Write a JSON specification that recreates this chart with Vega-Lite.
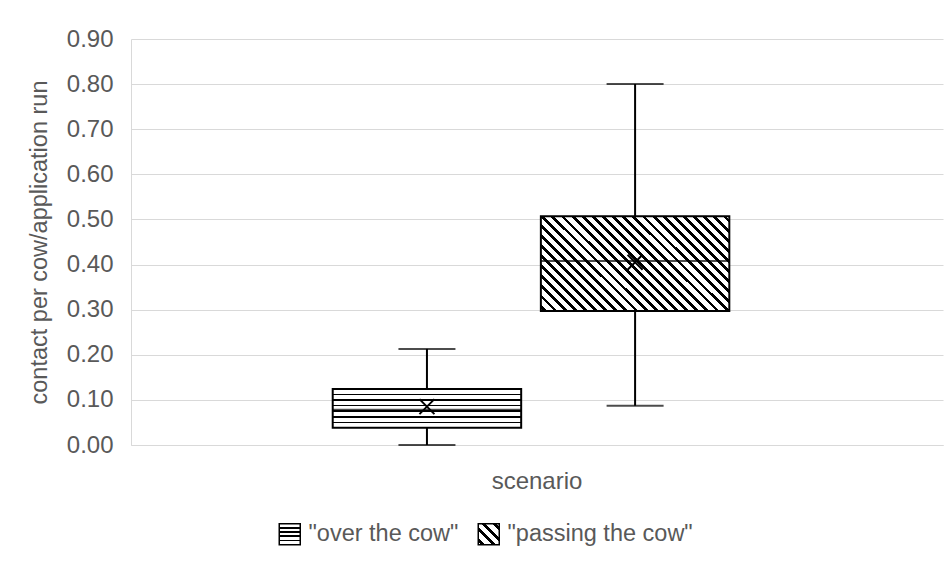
{
  "$schema": "https://vega.github.io/schema/vega-lite/v6.json",
  "autosize": {"type": "none"},
  "width": 812,
  "height": 406,
  "padding": {"left": 131, "top": 39, "right": 5, "bottom": 131},
  "config": {"font": "Liberation Sans", "view": {"stroke": null}},
  "params": [
    {"name": "g1", "value": {"gradient": "linear", "x1": 0.5, "y1": 0, "x2": 0.5, "y2": 1, "stops": [
      {"offset": 0, "color": "white"},
      {"offset": 0.1229, "color": "white"}, {"offset": 0.1229, "color": "black"}, {"offset": 0.1629, "color": "black"}, {"offset": 0.1629, "color": "white"},
      {"offset": 0.2657, "color": "white"}, {"offset": 0.2657, "color": "black"}, {"offset": 0.3057, "color": "black"}, {"offset": 0.3057, "color": "white"},
      {"offset": 0.4086, "color": "white"}, {"offset": 0.4086, "color": "black"}, {"offset": 0.4486, "color": "black"}, {"offset": 0.4486, "color": "white"},
      {"offset": 0.5514, "color": "white"}, {"offset": 0.5514, "color": "black"}, {"offset": 0.5914, "color": "black"}, {"offset": 0.5914, "color": "white"},
      {"offset": 0.6943, "color": "white"}, {"offset": 0.6943, "color": "black"}, {"offset": 0.7343, "color": "black"}, {"offset": 0.7343, "color": "white"},
      {"offset": 0.8371, "color": "white"}, {"offset": 0.8371, "color": "black"}, {"offset": 0.8771, "color": "black"}, {"offset": 0.8771, "color": "white"},
      {"offset": 1, "color": "white"}
    ]}},
    {"name": "g1l", "value": {"gradient": "linear", "x1": 0.5, "y1": 0, "x2": 0.5, "y2": 1, "stops": [
      {"offset": 0, "color": "white"},
      {"offset": 0.16, "color": "white"}, {"offset": 0.16, "color": "black"}, {"offset": 0.24, "color": "black"}, {"offset": 0.24, "color": "white"},
      {"offset": 0.36, "color": "white"}, {"offset": 0.36, "color": "black"}, {"offset": 0.44, "color": "black"}, {"offset": 0.44, "color": "white"},
      {"offset": 0.56, "color": "white"}, {"offset": 0.56, "color": "black"}, {"offset": 0.64, "color": "black"}, {"offset": 0.64, "color": "white"},
      {"offset": 0.76, "color": "white"}, {"offset": 0.76, "color": "black"}, {"offset": 0.84, "color": "black"}, {"offset": 0.84, "color": "white"},
      {"offset": 1, "color": "white"}
    ]}},
    {"name": "g2l", "value": {"gradient": "linear", "x1": 0, "y1": 1, "x2": 1, "y2": 0.0001, "stops": [
      {"offset": 0, "color": "white"},
      {"offset": 0.075, "color": "white"}, {"offset": 0.075, "color": "black"}, {"offset": 0.175, "color": "black"}, {"offset": 0.175, "color": "white"},
      {"offset": 0.325, "color": "white"}, {"offset": 0.325, "color": "black"}, {"offset": 0.425, "color": "black"}, {"offset": 0.425, "color": "white"},
      {"offset": 0.575, "color": "white"}, {"offset": 0.575, "color": "black"}, {"offset": 0.675, "color": "black"}, {"offset": 0.675, "color": "white"},
      {"offset": 0.825, "color": "white"}, {"offset": 0.825, "color": "black"}, {"offset": 0.925, "color": "black"}, {"offset": 0.925, "color": "white"},
      {"offset": 1, "color": "white"}
    ]}},
    {"name": "g2", "value": {"gradient": "linear", "x1": 0, "y1": 1, "x2": 1.1994, "y2": 0.3955, "stops": [
      {"offset": 0, "color": "white"},
      {"offset": 0.011071, "color": "white"}, {"offset": 0.011071, "color": "black"}, {"offset": 0.024643, "color": "black"}, {"offset": 0.024643, "color": "white"},
      {"offset": 0.046785, "color": "white"}, {"offset": 0.046785, "color": "black"}, {"offset": 0.060357, "color": "black"}, {"offset": 0.060357, "color": "white"},
      {"offset": 0.0825, "color": "white"}, {"offset": 0.0825, "color": "black"}, {"offset": 0.096072, "color": "black"}, {"offset": 0.096072, "color": "white"},
      {"offset": 0.118214, "color": "white"}, {"offset": 0.118214, "color": "black"}, {"offset": 0.131786, "color": "black"}, {"offset": 0.131786, "color": "white"},
      {"offset": 0.153928, "color": "white"}, {"offset": 0.153928, "color": "black"}, {"offset": 0.1675, "color": "black"}, {"offset": 0.1675, "color": "white"},
      {"offset": 0.189642, "color": "white"}, {"offset": 0.189642, "color": "black"}, {"offset": 0.203214, "color": "black"}, {"offset": 0.203214, "color": "white"},
      {"offset": 0.225357, "color": "white"}, {"offset": 0.225357, "color": "black"}, {"offset": 0.238929, "color": "black"}, {"offset": 0.238929, "color": "white"},
      {"offset": 0.261071, "color": "white"}, {"offset": 0.261071, "color": "black"}, {"offset": 0.274643, "color": "black"}, {"offset": 0.274643, "color": "white"},
      {"offset": 0.296785, "color": "white"}, {"offset": 0.296785, "color": "black"}, {"offset": 0.310357, "color": "black"}, {"offset": 0.310357, "color": "white"},
      {"offset": 0.3325, "color": "white"}, {"offset": 0.3325, "color": "black"}, {"offset": 0.346072, "color": "black"}, {"offset": 0.346072, "color": "white"},
      {"offset": 0.368214, "color": "white"}, {"offset": 0.368214, "color": "black"}, {"offset": 0.381786, "color": "black"}, {"offset": 0.381786, "color": "white"},
      {"offset": 0.403928, "color": "white"}, {"offset": 0.403928, "color": "black"}, {"offset": 0.4175, "color": "black"}, {"offset": 0.4175, "color": "white"},
      {"offset": 0.439642, "color": "white"}, {"offset": 0.439642, "color": "black"}, {"offset": 0.453214, "color": "black"}, {"offset": 0.453214, "color": "white"},
      {"offset": 0.475357, "color": "white"}, {"offset": 0.475357, "color": "black"}, {"offset": 0.488929, "color": "black"}, {"offset": 0.488929, "color": "white"},
      {"offset": 0.511071, "color": "white"}, {"offset": 0.511071, "color": "black"}, {"offset": 0.524643, "color": "black"}, {"offset": 0.524643, "color": "white"},
      {"offset": 0.546785, "color": "white"}, {"offset": 0.546785, "color": "black"}, {"offset": 0.560357, "color": "black"}, {"offset": 0.560357, "color": "white"},
      {"offset": 0.5825, "color": "white"}, {"offset": 0.5825, "color": "black"}, {"offset": 0.596072, "color": "black"}, {"offset": 0.596072, "color": "white"},
      {"offset": 0.618214, "color": "white"}, {"offset": 0.618214, "color": "black"}, {"offset": 0.631786, "color": "black"}, {"offset": 0.631786, "color": "white"},
      {"offset": 0.653928, "color": "white"}, {"offset": 0.653928, "color": "black"}, {"offset": 0.6675, "color": "black"}, {"offset": 0.6675, "color": "white"},
      {"offset": 0.689642, "color": "white"}, {"offset": 0.689642, "color": "black"}, {"offset": 0.703214, "color": "black"}, {"offset": 0.703214, "color": "white"},
      {"offset": 0.725357, "color": "white"}, {"offset": 0.725357, "color": "black"}, {"offset": 0.738929, "color": "black"}, {"offset": 0.738929, "color": "white"},
      {"offset": 0.761071, "color": "white"}, {"offset": 0.761071, "color": "black"}, {"offset": 0.774643, "color": "black"}, {"offset": 0.774643, "color": "white"},
      {"offset": 0.796785, "color": "white"}, {"offset": 0.796785, "color": "black"}, {"offset": 0.810357, "color": "black"}, {"offset": 0.810357, "color": "white"},
      {"offset": 0.8325, "color": "white"}, {"offset": 0.8325, "color": "black"}, {"offset": 0.846072, "color": "black"}, {"offset": 0.846072, "color": "white"},
      {"offset": 0.868214, "color": "white"}, {"offset": 0.868214, "color": "black"}, {"offset": 0.881786, "color": "black"}, {"offset": 0.881786, "color": "white"},
      {"offset": 0.903928, "color": "white"}, {"offset": 0.903928, "color": "black"}, {"offset": 0.9175, "color": "black"}, {"offset": 0.9175, "color": "white"},
      {"offset": 0.939642, "color": "white"}, {"offset": 0.939642, "color": "black"}, {"offset": 0.953214, "color": "black"}, {"offset": 0.953214, "color": "white"},
      {"offset": 0.975357, "color": "white"}, {"offset": 0.975357, "color": "black"}, {"offset": 0.988929, "color": "black"}, {"offset": 0.988929, "color": "white"},
      {"offset": 1, "color": "white"}
    ]}}
  ],
  "data": {"values": [
    {"scenario": "scenario", "series": "\"over the cow\"", "min": 0.0, "q1": 0.038, "median": 0.078, "q3": 0.124, "max": 0.213, "mean": 0.085},
    {"scenario": "scenario", "series": "\"passing the cow\"", "min": 0.087, "q1": 0.297, "median": 0.408, "q3": 0.507, "max": 0.80, "mean": 0.405}
  ]},
  "encoding": {
    "x": {"field": "scenario", "type": "nominal",
      "scale": {"paddingInner": 0, "paddingOuter": 0.5237, "align": 0.4856},
      "axis": {"title": null, "labelAngle": 0, "labelFontSize": 24, "labelColor": "#595959", "labelPadding": 24, "labelOffset": 6, "ticks": false, "domainColor": "#d9d9d9", "domainWidth": 1, "grid": false}},
    "xOffset": {"field": "series", "type": "nominal", "scale": {"paddingInner": 0.0946, "paddingOuter": 0}}
  },
  "layer": [
    {
      "mark": {"type": "rule", "color": "black", "strokeWidth": 2},
      "encoding": {
        "y": {"field": "min", "type": "quantitative", "scale": {"domain": [0, 0.9], "nice": false},
          "axis": {"title": "contact per cow/application run", "values": [0, 0.1, 0.2, 0.3, 0.4, 0.5, 0.6, 0.7, 0.8, 0.9], "format": ".2f",
            "labelFontSize": 24, "labelColor": "#595959", "labelPadding": 18, "ticks": false,
            "domainColor": "#d9d9d9", "domainWidth": 1, "gridColor": "#d9d9d9", "gridWidth": 1,
            "titleFontSize": 23.5, "titleFontWeight": "normal", "titleColor": "#595959", "titlePadding": 15}},
        "y2": {"field": "max"}
      }
    },
    {
      "mark": {"type": "tick", "color": "black", "size": 57, "thickness": 2},
      "encoding": {"y": {"field": "min", "type": "quantitative"}}
    },
    {
      "mark": {"type": "tick", "color": "black", "size": 57, "thickness": 2},
      "encoding": {"y": {"field": "max", "type": "quantitative"}}
    },
    {
      "mark": {"type": "bar", "stroke": "black", "strokeWidth": 2, "opacity": 1},
      "encoding": {
        "y": {"field": "q1", "type": "quantitative"},
        "y2": {"field": "q3"},
        "fill": {"field": "series", "type": "nominal",
          "scale": {"domain": ["\"passing the cow\"", "\"over the cow\""], "range": [{"expr": "g2"}, {"expr": "g1"}]},
          "legend": null}
      }
    },
    {
      "mark": {"type": "bar", "opacity": 1},
      "encoding": {
        "y": {"field": "q1", "type": "quantitative"},
        "y2": {"field": "q1"},
        "color": {"field": "series", "type": "nominal",
          "scale": {"domain": ["\"over the cow\"", "\"passing the cow\""], "range": [{"expr": "g1l"}, {"expr": "g2l"}]},
          "legend": {"orient": "none", "legendX": 147, "legendY": 483, "direction": "horizontal", "title": null, "padding": 0,
            "symbolType": "square", "symbolSize": 441, "symbolStrokeColor": "black", "symbolStrokeWidth": 1.5, "symbolOpacity": 1,
            "labelFontSize": 23.5, "labelColor": "#595959", "labelOffset": 7, "columnPadding": 16, "labelLimit": 500}
        }
      }
    },
    {
      "mark": {"type": "tick", "color": "black", "size": 188, "thickness": 2},
      "encoding": {"y": {"field": "median", "type": "quantitative"}}
    },
    {
      "mark": {"type": "point", "shape": "M-1,-1L1,1M1,-1L-1,1", "filled": false, "stroke": "black", "strokeWidth": 2, "size": 225, "opacity": 1},
      "encoding": {"y": {"field": "mean", "type": "quantitative"}}
    }
  ]
}
